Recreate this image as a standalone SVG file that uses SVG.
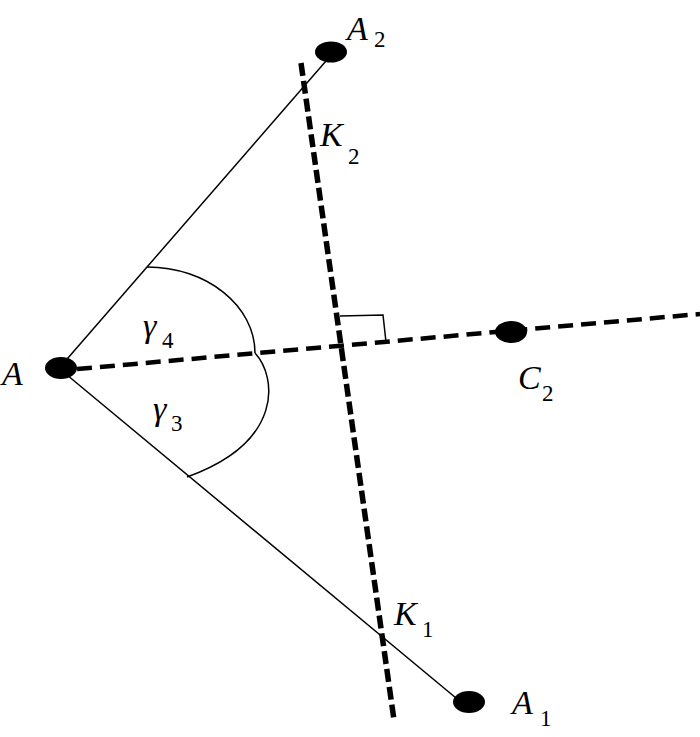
<svg xmlns="http://www.w3.org/2000/svg" width="700" height="737" viewBox="0 0 700 737">
<style>
.thin{fill:none;stroke:#000;stroke-width:1.5}
.dash1{fill:none;stroke:#000;stroke-width:4.5;stroke-dasharray:15 8}
.dash2{fill:none;stroke:#000;stroke-width:5.5;stroke-dasharray:13 5}
.dot{fill:#000}
.lbl{font-family:"Liberation Serif",serif;font-style:italic;font-size:34px;fill:#000}
.sub{font-family:"Liberation Serif",serif;font-size:23px;fill:#000}
</style>
<rect width="700" height="737" fill="#fff"/>
<g id="connectors">
<line class="thin" x1="61" y1="366" x2="326" y2="61"/>
<line class="thin" x1="61" y1="370" x2="456" y2="698"/>
<line class="dash1" x1="77" y1="369" x2="700" y2="314"/>
<line class="dash2" x1="301" y1="63" x2="394" y2="720"/>
<polyline class="thin" points="340,316 383,315 386,342"/>
<path class="thin" d="M147,267 C207,267 255,306 255,353"/>
<path class="thin" d="M255,353 C277,377 284,442 187,477"/>
</g>
<g id="node-A">
<ellipse class="dot" cx="61" cy="368" rx="16" ry="11"/>
<text class="lbl" x="2" y="385">A</text>
</g>
<g id="node-A2">
<ellipse class="dot" cx="331" cy="52" rx="16" ry="10.5"/>
<text class="lbl" x="347" y="40">A</text>
<text class="sub" x="374" y="47">2</text>
</g>
<g id="node-A1">
<ellipse class="dot" cx="469" cy="702" rx="16" ry="11"/>
<text class="lbl" x="512" y="714">A</text>
<text class="sub" x="540" y="726">1</text>
</g>
<g id="node-C2">
<ellipse class="dot" cx="511" cy="332" rx="16" ry="11"/>
<text class="lbl" x="518" y="389">C</text>
<text class="sub" x="542" y="401">2</text>
</g>
<g id="label-K2">
<text class="lbl" x="320" y="146">K</text>
<text class="sub" x="348" y="164">2</text>
</g>
<g id="label-K1">
<text class="lbl" x="394" y="625">K</text>
<text class="sub" x="422" y="637">1</text>
</g>
<g id="label-g4">
<text class="lbl" x="143" y="337">γ</text>
<text class="sub" x="162" y="348">4</text>
</g>
<g id="label-g3">
<text class="lbl" x="153" y="420">γ</text>
<text class="sub" x="171" y="431">3</text>
</g>
</svg>
